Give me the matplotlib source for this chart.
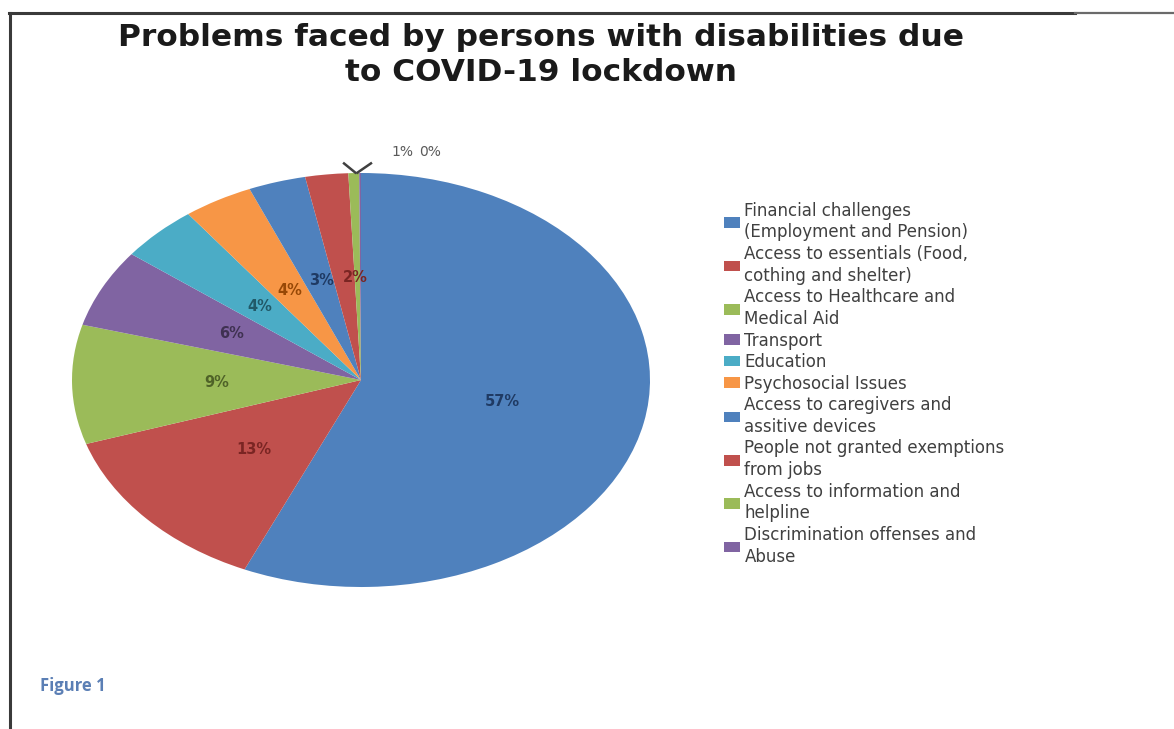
import matplotlib
matplotlib.use("Agg")
import matplotlib.pyplot as plt
import numpy as np
from matplotlib.lines import Line2D
from matplotlib.patches import Patch

categories = [
    "Financial challenges\n(Employment and Pension)",
    "Access to essentials (Food,\ncothing and shelter)",
    "Access to Healthcare and\nMedical Aid",
    "Transport",
    "Education",
    "Psychosocial Issues",
    "Access to caregivers and\nassitive devices",
    "People not granted exemptions\nfrom jobs",
    "Access to information and\nhelpline",
    "Discrimination offenses and\nAbuse",
]
values = [56.6, 13.4, 9.3, 6.1, 4.4, 3.9, 3.2, 2.4, 0.6, 0.1]

colors = ["#4F81BD", "#C0504D", "#9BBB59", "#8064A2", "#4BACC6", "#F79646",
          "#4F81BD", "#C0504D", "#9BBB59", "#8064A2"]
label_colors = ["#1F3A63", "#7A2523", "#4F6228", "#3F3151", "#215968", "#974806",
                "#1F3A63", "#7A2523", "#595959", "#595959"]

W, H = 1174, 729
fig = plt.figure(figsize=(W / 100, H / 100), dpi=100)
fig.patch.set_facecolor("white")

# frame lines
fig.add_artist(Line2D([9 / W, 1075 / W], [1 - 13 / H, 1 - 13 / H], color="#3a3a3a", lw=2.2))
fig.add_artist(Line2D([1075 / W, 1], [1 - 13 / H, 1 - 13 / H], color="#6a6a6a", lw=1.6))
fig.add_artist(Line2D([10 / W, 10 / W], [0, 1 - 13 / H], color="#3a3a3a", lw=2.2))

# pie axes (elliptical pie)
cx0, cx1, cy0, cy1 = 72, 650, 173, 587
ax = fig.add_axes([cx0 / W, 1 - cy1 / H, (cx1 - cx0) / W, (cy1 - cy0) / H])
wedges, _ = ax.pie(values, colors=colors, startangle=90, counterclock=False,
                   normalize=True, wedgeprops=dict(linewidth=0))
ax.set_aspect("auto")
ax.set_xlim(-1, 1)
ax.set_ylim(-1, 1)
ax.axis("off")

total = sum(values)
apex = np.cos(np.deg2rad((wedges[8].theta1 + wedges[9].theta2) / 2)) - 0.01
for i, (w, v) in enumerate(zip(wedges, values)):
    pct = f"{round(v / total * 100):d}%"
    ang = np.deg2rad((w.theta1 + w.theta2) / 2)
    if i < 8:
        r = 0.5
        x, y = r * np.cos(ang), r * np.sin(ang)
        if i == 7:
            x += 0.04
        if i == 6:
            x += 0.01
        ax.text(x, y, pct, ha="center", va="center", fontsize=10.5,
                fontweight="bold", color=label_colors[i], family="DejaVu Sans")
    else:
        # small slices: labels outside, with leader lines forming a V
        tx = 0.145 if i == 8 else 0.238
        ax.text(tx, 1.1, pct, ha="center", va="center", fontsize=10,
                color="#5a5a5a", family="DejaVu Sans", clip_on=False)
        ex = -0.062 if i == 8 else 0.038
        ax.plot([apex, ex], [0.998, 1.05], color="#404040", lw=1.8,
                clip_on=False, solid_capstyle="butt")

# legend
handles = [Patch(facecolor=c, edgecolor="none") for c in colors]
leg = fig.legend(handles, categories, loc="upper left",
                 bbox_to_anchor=(717 / W, 1 - 195 / H), frameon=False,
                 prop=dict(family="DejaVu Sans", size=12),
                 handlelength=0.95, handleheight=0.6, handletextpad=0.3,
                 labelspacing=0.21, borderaxespad=0)
for t in leg.get_texts():
    t.set_color("#404040")
    t.set_linespacing(1.27)

# title
fig.text(541 / W, 1 - 55 / H,
         "Problems faced by persons with disabilities due\nto COVID-19 lockdown",
         ha="center", va="center", fontsize=22.5, fontweight="bold",
         family="DejaVu Sans", color="#1a1a1a", linespacing=1.3)

fig.text(40 / W, 1 - 686 / H, "Figure 1", ha="left", va="center",
         fontsize=12, fontweight="bold", family="Open Sans", color="#5B7FB5")

fig.savefig("out.png", dpi=100)
